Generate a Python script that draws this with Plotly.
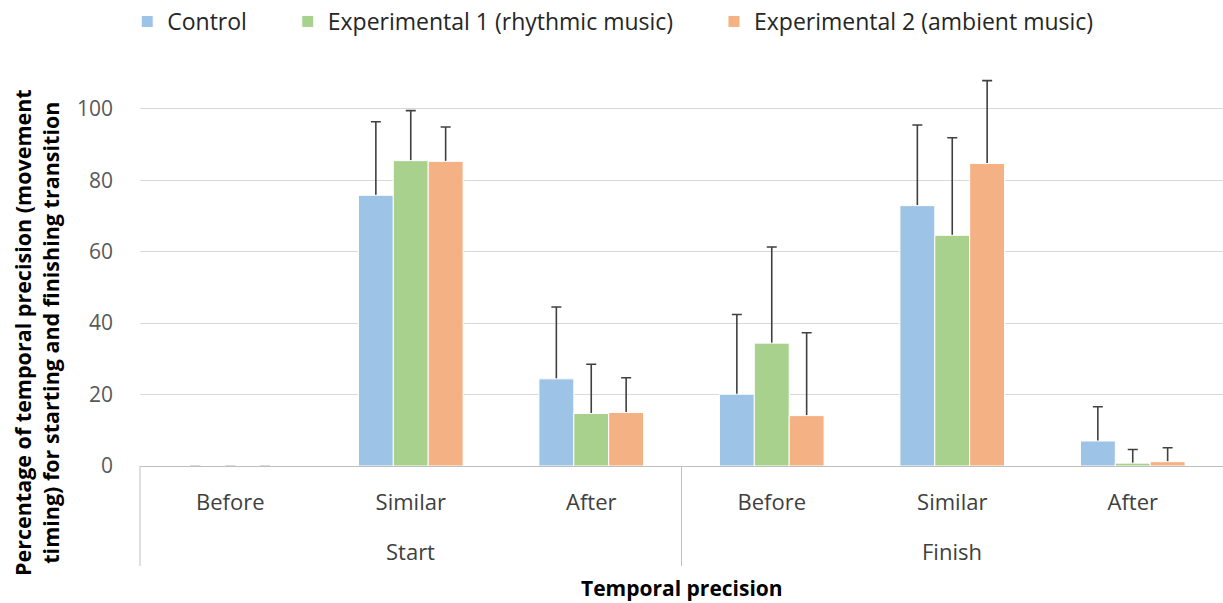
import plotly.graph_objects as go

phases = ["Start", "Start", "Start", "Finish", "Finish", "Finish"]
timing = ["Before", "Similar", "After", "Before", "Similar", "After"]
series_names = ["Control", "Experimental 1 (rhythmic music)", "Experimental 2 (ambient music)"]
control = [0, 75.8, 24.4, 20.1, 72.9, 7.0]
control_top = [0, 96.4, 44.5, 42.4, 95.5, 16.6]
exp1 = [0, 85.5, 14.7, 34.4, 64.6, 0.8]
exp1_top = [0, 99.5, 28.5, 61.3, 91.9, 4.6]
exp2 = [0, 85.3, 15.0, 14.1, 84.7, 1.2]
exp2_top = [0, 94.9, 24.7, 37.3, 107.9, 5.1]
colors = ["#9DC3E6", "#A9D18E", "#F4B183"]
phase_names = ["Start", "Finish"]

FONT = "Open Sans"
cats = [p + " " + t for p, t in zip(phases, timing)]
# wider gap between legend entries (as in the reference)
pad = "\u00a0" * 6
legend_labels = [series_names[0] + pad, series_names[1] + pad, series_names[2]]

fig = go.Figure()
groups = list(zip(legend_labels, [control, exp1, exp2], [control_top, exp1_top, exp2_top], colors))
for i, (name, vals, tops, col) in enumerate(groups):
    fig.add_trace(go.Bar(
        x=cats, y=vals, name=name, offsetgroup=str(i),
        marker=dict(color=col, line=dict(color="white", width=1)),
        error_y=dict(type="data", symmetric=False,
                     array=[t - v for t, v in zip(tops, vals)],
                     # lower end tucked inside the bar so only the upper cap shows
                     arrayminus=[min(1.5, v * 0.5) for v in vals],
                     color="#404040", thickness=1.6, width=5),
        cliponaxis=False,
    ))
# same bars drawn again on top to hide the lower part of each error bar
for i, (name, vals, tops, col) in enumerate(groups):
    fig.add_trace(go.Bar(
        x=cats, y=vals, name=name, offsetgroup=str(i),
        marker=dict(color=col, line=dict(color="white", width=1)),
        showlegend=False, hoverinfo="skip",
    ))

TOP, BOT = 66, 137
PH = 603 - TOP - BOT


def ypix(py):
    """paper y for a pixel row"""
    return (603 - BOT - py) / PH


annotations = [
    dict(text="<b>Percentage of temporal precision (movement<br>timing) for starting and finishing transition</b>",
         xref="paper", yref="paper", x=(36 - 140) / 1083, y=ypix(333),
         xanchor="center", yanchor="middle", textangle=-90, showarrow=False,
         font=dict(size=21.5, color="#000000", family=FONT)),
    dict(text="<b>Temporal precision</b>", xref="paper", yref="paper",
         x=0.5, y=ypix(588), xanchor="center", yanchor="middle",
         showarrow=False, font=dict(size=21, color="#000000", family=FONT)),
]
for k, ph in enumerate(phase_names):
    annotations.append(dict(text=ph, xref="paper", yref="paper", x=0.25 + 0.5 * k, y=ypix(551),
                            xanchor="center", yanchor="middle", showarrow=False,
                            font=dict(size=22, color="#404040", family=FONT)))

shapes = [dict(type="line", xref="paper", yref="paper", x0=xv, x1=xv, y0=0, y1=ypix(566),
               line=dict(color="#BFBFBF", width=1)) for xv in (0, 0.5)]

fig.update_layout(
    width=1223, height=603,
    margin=dict(l=140, r=0, t=TOP, b=BOT),
    paper_bgcolor="white", plot_bgcolor="white",
    barmode="group", bargap=0.42, bargroupgap=0.0,
    font=dict(family=FONT, size=22, color="#404040"),
    legend=dict(orientation="h", x=0.501, xref="container", xanchor="center",
                y=1.0, yref="container", yanchor="top",
                font=dict(size=23, color="#262626"),
                itemwidth=30, traceorder="normal"),
    xaxis=dict(type="category", showline=True, linecolor="#BFBFBF", linewidth=1,
               tickvals=cats, ticktext=timing, showgrid=False,
               tickfont=dict(size=22, color="#404040"), ticks="", ticklabelstandoff=17),
    yaxis=dict(range=[0, 112], dtick=20, showgrid=True, gridcolor="#D9D9D9",
               gridwidth=1, zeroline=False, showline=False,
               tickfont=dict(size=21, color="#595959"), ticklen=0, ticks="",
               ticklabelstandoff=26),
    annotations=annotations,
    shapes=shapes,
)

fig.write_html("out.html")
